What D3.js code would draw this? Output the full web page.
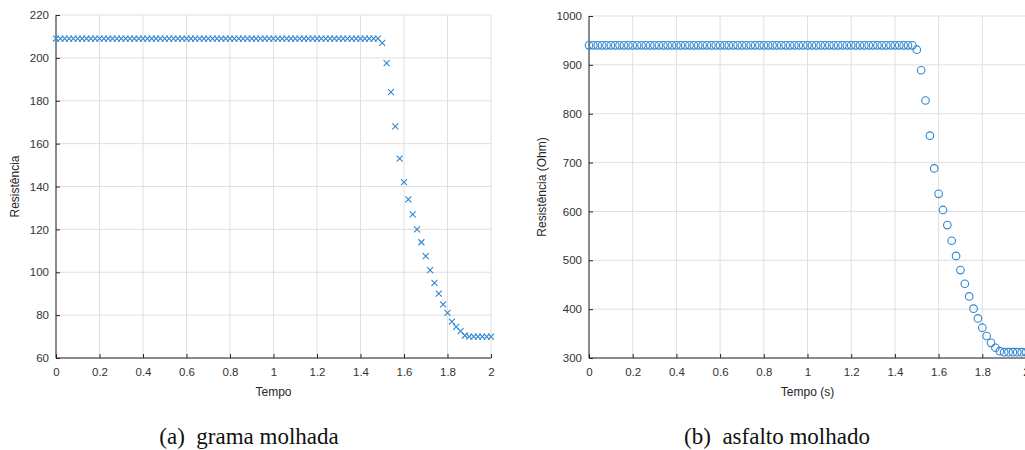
<!DOCTYPE html>
<html>
<head>
<meta charset="utf-8">
<script src="https://cdnjs.cloudflare.com/ajax/libs/d3/7.8.5/d3.min.js"></script>
<style>
  body { margin: 0; background: #fff; }
  svg { display: block; }
</style>
</head>
<body>
<div id="chart"></div>
<script>
// sample times (s), step 0.02
var tempo = [
  0.00, 0.02, 0.04, 0.06, 0.08, 0.10, 0.12, 0.14, 0.16, 0.18,
  0.20, 0.22, 0.24, 0.26, 0.28, 0.30, 0.32, 0.34, 0.36, 0.38,
  0.40, 0.42, 0.44, 0.46, 0.48, 0.50, 0.52, 0.54, 0.56, 0.58,
  0.60, 0.62, 0.64, 0.66, 0.68, 0.70, 0.72, 0.74, 0.76, 0.78,
  0.80, 0.82, 0.84, 0.86, 0.88, 0.90, 0.92, 0.94, 0.96, 0.98,
  1.00, 1.02, 1.04, 1.06, 1.08, 1.10, 1.12, 1.14, 1.16, 1.18,
  1.20, 1.22, 1.24, 1.26, 1.28, 1.30, 1.32, 1.34, 1.36, 1.38,
  1.40, 1.42, 1.44, 1.46, 1.48, 1.50, 1.52, 1.54, 1.56, 1.58,
  1.60, 1.62, 1.64, 1.66, 1.68, 1.70, 1.72, 1.74, 1.76, 1.78,
  1.80, 1.82, 1.84, 1.86, 1.88, 1.90, 1.92, 1.94, 1.96, 1.98,
  2.00
];

// (a) grama molhada
var gramaMolhada = [
  209, 209, 209, 209, 209, 209, 209, 209, 209, 209,
  209, 209, 209, 209, 209, 209, 209, 209, 209, 209,
  209, 209, 209, 209, 209, 209, 209, 209, 209, 209,
  209, 209, 209, 209, 209, 209, 209, 209, 209, 209,
  209, 209, 209, 209, 209, 209, 209, 209, 209, 209,
  209, 209, 209, 209, 209, 209, 209, 209, 209, 209,
  209, 209, 209, 209, 209, 209, 209, 209, 209, 209,
  209, 209, 209, 209, 209, 207, 197.5, 184, 168, 153,
  142, 134, 127, 120, 114, 107.5, 101, 95, 90, 85,
  81, 77, 74.5, 72.5, 70.5, 70, 70, 70, 70, 70,
  70
];

// (b) asfalto molhado
var asfaltoMolhado = [
  940, 940, 940, 940, 940, 940, 940, 940, 940, 940,
  940, 940, 940, 940, 940, 940, 940, 940, 940, 940,
  940, 940, 940, 940, 940, 940, 940, 940, 940, 940,
  940, 940, 940, 940, 940, 940, 940, 940, 940, 940,
  940, 940, 940, 940, 940, 940, 940, 940, 940, 940,
  940, 940, 940, 940, 940, 940, 940, 940, 940, 940,
  940, 940, 940, 940, 940, 940, 940, 940, 940, 940,
  940, 940, 940, 940, 940, 931, 889, 827, 755, 688,
  636, 603, 572, 540, 509, 480, 452, 426, 401, 381,
  362, 345, 331, 321, 314, 312, 312, 312, 312, 312,
  312
];

var xTicks = [0, 0.2, 0.4, 0.6, 0.8, 1, 1.2, 1.4, 1.6, 1.8, 2];
var yTicksA = [60, 80, 100, 120, 140, 160, 180, 200, 220];
var yTicksB = [300, 400, 500, 600, 700, 800, 900, 1000];

var blue = "#2f87d0";
var axisColor = "#262626";
var tickText = "#333333";
var gridColor = "#dfdfdf";
var sansFont = "'Liberation Sans', Arial, sans-serif";
var serifFont = "'Times New Roman', 'Liberation Serif', Times, serif";

var svg = d3.select("#chart")
    .append("svg")
    .attr("width", 1025)
    .attr("height", 450);

svg.append("rect").attr("width", 1025).attr("height", 450).attr("fill", "#fff");

function drawPanel(opt) {
    var x = d3.scaleLinear().domain([0, 2]).range([opt.left, opt.right]);
    var y = d3.scaleLinear().domain(opt.yDomain).range([opt.bottom, opt.top]);

    var g = svg.append("g");

    // grid
    g.selectAll(".vgrid").data(xTicks).enter().append("line")
        .attr("x1", function (d) { return x(d); })
        .attr("x2", function (d) { return x(d); })
        .attr("y1", opt.top).attr("y2", opt.bottom)
        .attr("stroke", gridColor).attr("stroke-width", 1);
    g.selectAll(".hgrid").data(opt.yTicks).enter().append("line")
        .attr("y1", function (d) { return y(d); })
        .attr("y2", function (d) { return y(d); })
        .attr("x1", opt.left).attr("x2", opt.right)
        .attr("stroke", gridColor).attr("stroke-width", 1);

    // axes, ticks pointing inward
    var xAxis = d3.axisBottom(x).tickValues(xTicks).tickSize(-4).tickPadding(10)
        .tickFormat(d3.format("~g"));
    var yAxis = d3.axisLeft(y).tickValues(opt.yTicks).tickSize(-4).tickPadding(7)
        .tickFormat(d3.format("d"));

    var gx = g.append("g").attr("transform", "translate(0," + opt.bottom + ")").call(xAxis);
    var gy = g.append("g").attr("transform", "translate(" + opt.left + ",0)").call(yAxis);

    [gx, gy].forEach(function (ax) {
        ax.select(".domain").attr("stroke", axisColor).attr("stroke-width", 1);
        ax.selectAll(".tick line").attr("stroke", axisColor);
        ax.selectAll(".tick text")
            .attr("fill", tickText)
            .style("font-family", sansFont)
            .style("font-size", "11.5px");
    });
    gx.select(".domain").attr("d", "M" + opt.left + ",0H" + opt.right);
    gy.select(".domain").attr("d", "M0," + opt.bottom + "V" + opt.top);

    // points
    var pts = g.selectAll(".pt").data(opt.values).enter().append("g")
        .attr("transform", function (d, i) {
            return "translate(" + x(tempo[i]) + "," + y(d) + ")";
        });

    if (opt.marker == "x") {
        pts.append("path")
            .attr("d", "M-3,-3L3,3M-3,3L3,-3")
            .attr("stroke", blue).attr("stroke-width", 1.1).attr("fill", "none");
    } else {
        pts.append("circle")
            .attr("r", 3.8)
            .attr("stroke", blue).attr("stroke-width", 1.1).attr("fill", "none");
    }

    // axis labels
    svg.append("text")
        .attr("x", (opt.left + opt.right) / 2)
        .attr("y", 396)
        .attr("text-anchor", "middle")
        .attr("fill", axisColor)
        .style("font-family", sansFont)
        .style("font-size", "12px")
        .text(opt.xLabel);

    svg.append("text")
        .attr("transform", "translate(" + opt.yLabelX + "," + ((opt.top + opt.bottom) / 2) + ") rotate(-90)")
        .attr("text-anchor", "middle")
        .attr("fill", axisColor)
        .style("font-family", sansFont)
        .style("font-size", "12px")
        .text(opt.yLabel);

    // caption
    svg.append("text")
        .attr("x", opt.captionX)
        .attr("y", 444)
        .attr("text-anchor", "middle")
        .attr("fill", "#111")
        .style("font-family", serifFont)
        .style("font-size", "23px")
        .style("white-space", "pre")
        .text(opt.caption);
}

drawPanel({
    left: 56, right: 491, top: 15, bottom: 358,
    yDomain: [60, 220], yTicks: yTicksA,
    values: gramaMolhada, marker: "x",
    xLabel: "Tempo", yLabel: "Resistência", yLabelX: 19,
    caption: "(a)  grama molhada", captionX: 249
});

drawPanel({
    left: 589, right: 1026, top: 16, bottom: 358,
    yDomain: [300, 1000], yTicks: yTicksB,
    values: asfaltoMolhado, marker: "o",
    xLabel: "Tempo (s)", yLabel: "Resistência (Ohm)", yLabelX: 546,
    caption: "(b)  asfalto molhado", captionX: 777
});
</script>
</body>
</html>
